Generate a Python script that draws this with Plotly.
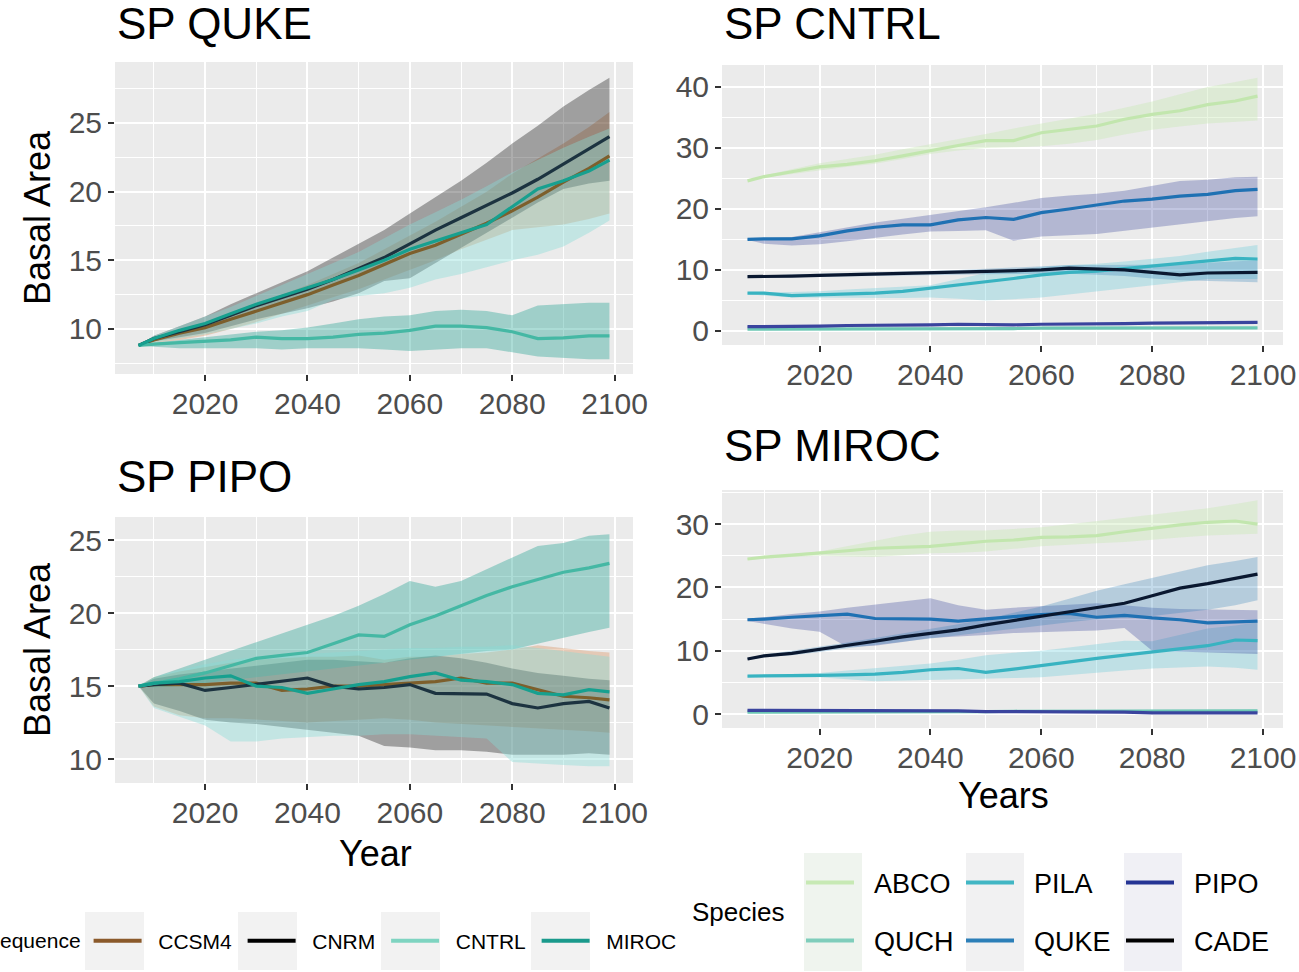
import plotly.graph_objects as go

# ---- data ----
YEARS = [2007, 2010, 2015, 2020, 2025, 2030, 2035, 2040, 2045, 2050,
         2055, 2060, 2065, 2070, 2075, 2080, 2085, 2090, 2095, 2099]

SEQUENCES = ["CCSM4", "CNRM", "CNTRL", "MIROC"]
SPECIES = ["ABCO", "QUCH", "PILA", "QUKE", "PIPO", "CADE"]

# SP QUKE panel
quke_ccsm4 = [8.8, 9.2, 9.7, 10.1, 10.7, 11.3, 11.9, 12.5, 13.2, 13.9, 14.7, 15.5, 16.1, 16.9, 17.7, 18.6, 19.6, 20.7, 21.7, 22.6]
quke_ccsm4_lo = [8.8, 9.0, 9.2, 9.5, 10.0, 10.5, 11.1, 11.7, 12.3, 12.9, 13.6, 14.3, 15.0, 15.8, 16.5, 17.2, 17.4, 17.6, 18.0, 18.4]
quke_ccsm4_hi = [8.8, 9.3, 9.9, 10.4, 11.1, 11.8, 12.5, 13.2, 14.0, 14.8, 15.8, 16.8, 17.8, 18.9, 20.0, 21.3, 22.4, 23.5, 24.7, 25.8]
quke_cnrm = [8.8, 9.3, 9.8, 10.3, 11.0, 11.7, 12.3, 12.9, 13.6, 14.4, 15.2, 16.2, 17.2, 18.1, 19.0, 19.9, 20.9, 22.0, 23.1, 24.0]
quke_cnrm_lo = [8.8, 9.1, 9.4, 9.7, 10.2, 10.7, 11.1, 11.5, 12.0, 12.6, 13.5, 13.7, 14.8, 15.9, 17.0, 18.1, 19.2, 20.2, 20.6, 20.8]
quke_cnrm_hi = [8.8, 9.5, 10.2, 10.9, 11.8, 12.6, 13.4, 14.2, 15.2, 16.2, 17.2, 18.4, 19.6, 20.8, 22.1, 23.5, 24.8, 26.2, 27.4, 28.3]
quke_cntrl = [8.8, 8.9, 9.0, 9.1, 9.2, 9.4, 9.3, 9.3, 9.4, 9.6, 9.7, 9.9, 10.2, 10.2, 10.1, 9.8, 9.3, 9.35, 9.5, 9.5]
quke_cntrl_lo = [8.8, 8.7, 8.6, 8.6, 8.6, 8.6, 8.5, 8.6, 8.6, 8.6, 8.5, 8.4, 8.5, 8.6, 8.6, 8.3, 8.0, 7.9, 7.8, 7.8]
quke_cntrl_hi = [8.8, 9.0, 9.2, 9.4, 9.6, 9.8, 9.9, 10.1, 10.4, 10.7, 10.9, 11.0, 11.3, 11.4, 11.3, 11.0, 11.7, 11.8, 11.9, 11.9]
quke_miroc = [8.8, 9.3, 9.9, 10.4, 11.1, 11.8, 12.4, 13.0, 13.6, 14.3, 15.0, 15.8, 16.4, 17.0, 17.6, 18.9, 20.2, 20.8, 21.5, 22.3]
quke_miroc_lo = [8.8, 9.0, 9.3, 9.6, 10.0, 10.4, 10.9, 11.3, 12.1, 12.4, 12.6, 13.0, 13.6, 14.0, 14.5, 15.0, 15.4, 16.0, 17.0, 17.9]
quke_miroc_hi = [8.8, 9.5, 10.2, 10.9, 11.6, 12.4, 13.2, 14.0, 14.8, 15.6, 16.6, 17.6, 18.5, 19.4, 20.4, 21.4, 22.3, 23.2, 24.0, 24.6]

# SP PIPO panel
pipo_ccsm4 = [15.0, 15.1, 15.1, 15.1, 15.2, 15.2, 14.7, 14.8, 15.0, 15.0, 15.1, 15.2, 15.3, 15.55, 15.2, 15.2, 14.75, 14.3, 14.2, 14.05]
pipo_ccsm4_lo = [15.0, 13.6, 13.0, 12.8, 12.8, 12.7, 12.6, 12.5, 12.6, 12.7, 12.8, 12.7, 12.5, 12.4, 12.3, 12.2, 12.1, 12.0, 11.9, 11.8]
pipo_ccsm4_hi = [15.0, 15.6, 16.0, 16.3, 16.6, 16.8, 16.9, 17.0, 17.0, 17.1, 16.8, 17.0, 17.0, 17.2, 17.3, 17.5, 17.8, 17.6, 17.4, 17.3]
pipo_cnrm = [15.0, 15.1, 15.2, 14.7, 14.9, 15.1, 15.3, 15.55, 15.0, 14.8, 14.9, 15.1, 14.5, 14.45, 14.45, 13.8, 13.5, 13.8, 13.95, 13.5]
pipo_cnrm_lo = [15.0, 13.8, 13.3, 12.7, 12.5, 12.4, 12.2, 12.0, 11.8, 11.6, 10.9, 10.8, 10.6, 10.6, 10.5, 10.3, 10.3, 10.3, 10.4, 10.3]
pipo_cnrm_hi = [15.0, 15.5, 15.8, 16.0, 16.2, 16.4, 16.6, 16.8, 16.8, 16.7, 16.6, 16.9, 17.1, 16.9, 16.6, 16.2, 15.9, 15.7, 15.5, 15.4]
pipo_cntrl = [15.0, 15.2, 15.5, 15.9, 16.4, 16.9, 17.1, 17.3, 17.9, 18.5, 18.4, 19.2, 19.8, 20.5, 21.2, 21.8, 22.3, 22.8, 23.1, 23.4]
pipo_cntrl_lo = [15.0, 14.9, 15.0, 15.2, 15.4, 15.6, 15.8, 16.0, 16.2, 16.4, 16.6, 16.8, 17.0, 17.2, 17.4, 17.5, 17.9, 18.3, 18.7, 19.0]
pipo_cntrl_hi = [15.0, 15.6, 16.2, 16.8, 17.4, 18.0, 18.6, 19.2, 19.8, 20.5, 21.3, 22.2, 21.8, 22.2, 23.0, 23.8, 24.6, 24.8, 25.3, 25.4]
pipo_miroc = [15.0, 15.2, 15.3, 15.55, 15.7, 15.0, 14.9, 14.5, 14.8, 15.1, 15.3, 15.65, 15.9, 15.4, 15.3, 15.1, 14.5, 14.4, 14.75, 14.6]
pipo_miroc_lo = [15.0, 13.5, 12.9, 12.3, 11.2, 11.2, 11.4, 11.5, 11.6, 11.6, 11.7, 11.7, 11.6, 11.5, 11.4, 9.8, 9.7, 9.6, 9.5, 9.5]
pipo_miroc_hi = [15.0, 15.6, 16.1, 16.5, 16.8, 17.0, 17.1, 17.2, 17.3, 17.4, 17.5, 17.6, 17.6, 17.7, 17.7, 17.8, 17.6, 17.4, 17.2, 17.0]

# SP CNTRL panel
cntrl_abco = [24.6, 25.3, 26.1, 26.9, 27.3, 27.9, 28.7, 29.6, 30.4, 31.2, 31.2, 32.5, 33.0, 33.6, 34.7, 35.5, 36.1, 37.1, 37.7, 38.5]
cntrl_abco_lo = [24.6, 25.1, 25.7, 26.3, 26.9, 27.4, 28.2, 29.0, 29.6, 30.0, 30.1, 30.3, 30.7, 31.3, 32.2, 33.0, 33.5, 34.0, 34.3, 34.5]
cntrl_abco_hi = [24.6, 25.5, 26.5, 27.5, 28.2, 28.9, 29.8, 30.6, 31.5, 32.3, 33.2, 34.0, 34.8, 35.6, 36.6, 37.6, 38.8, 40.0, 40.8, 41.5]
cntrl_quch = [0.3, 0.3, 0.3, 0.3, 0.35, 0.35, 0.4, 0.4, 0.4, 0.4, 0.4, 0.45, 0.45, 0.45, 0.5, 0.5, 0.5, 0.5, 0.5, 0.5]
cntrl_quch_lo = [0.2, 0.2, 0.2, 0.2, 0.25, 0.25, 0.3, 0.3, 0.3, 0.3, 0.3, 0.35, 0.35, 0.35, 0.4, 0.4, 0.4, 0.4, 0.4, 0.4]
cntrl_quch_hi = [0.4, 0.4, 0.4, 0.4, 0.45, 0.45, 0.5, 0.5, 0.5, 0.5, 0.5, 0.55, 0.55, 0.55, 0.6, 0.6, 0.6, 0.6, 0.6, 0.6]
cntrl_pila = [6.2, 6.2, 5.8, 5.9, 6.0, 6.2, 6.5, 7.0, 7.5, 8.0, 8.6, 9.2, 9.6, 9.8, 10.2, 10.6, 11.0, 11.4, 11.9, 11.8]
cntrl_pila_lo = [6.0, 5.8, 5.5, 5.4, 5.4, 5.4, 5.4, 5.5, 5.3, 5.0, 5.2, 5.5, 6.0, 6.5, 7.0, 7.5, 8.0, 8.5, 8.5, 8.5]
cntrl_pila_hi = [6.3, 6.4, 6.4, 6.5, 6.8, 7.0, 7.2, 7.5, 8.5, 9.5, 10.0, 10.5, 10.8, 11.0, 11.4, 11.8, 12.3, 13.0, 13.6, 14.1]
cntrl_quke = [15.0, 15.1, 15.1, 15.6, 16.4, 17.0, 17.4, 17.4, 18.2, 18.6, 18.3, 19.4, 20.0, 20.7, 21.3, 21.6, 22.1, 22.4, 23.0, 23.2]
cntrl_quke_lo = [14.9, 14.3, 14.0, 14.2, 14.7, 15.2, 15.8, 16.3, 16.4, 16.5, 14.8, 15.5, 15.7, 15.9, 16.4, 17.0, 17.5, 18.0, 18.5, 18.8]
cntrl_quke_hi = [15.1, 15.2, 15.4, 16.2, 17.0, 17.8, 18.4, 19.0, 19.7, 20.3, 21.0, 21.8, 22.2, 22.5, 23.0, 23.8, 24.6, 24.8, 25.2, 25.3]
cntrl_pipo = [0.7, 0.7, 0.8, 0.8, 0.9, 0.9, 1.0, 1.0, 1.1, 1.0, 1.0, 1.1, 1.1, 1.2, 1.2, 1.3, 1.3, 1.3, 1.3, 1.4]
cntrl_pipo_lo = [0.6, 0.6, 0.7, 0.7, 0.8, 0.8, 0.9, 0.9, 1.0, 0.9, 0.9, 1.0, 1.0, 1.1, 1.1, 1.2, 1.2, 1.2, 1.2, 1.3]
cntrl_pipo_hi = [0.8, 0.8, 0.9, 0.9, 1.0, 1.0, 1.1, 1.1, 1.2, 1.1, 1.1, 1.2, 1.2, 1.3, 1.3, 1.4, 1.4, 1.4, 1.4, 1.5]
cntrl_cade = [8.9, 8.9, 9.0, 9.1, 9.2, 9.3, 9.4, 9.5, 9.6, 9.8, 9.9, 10.0, 10.3, 10.1, 10.0, 9.6, 9.2, 9.5, 9.6, 9.6]
cntrl_cade_lo = [8.8, 8.8, 8.8, 8.9, 9.0, 9.0, 9.1, 9.2, 9.2, 9.3, 9.4, 9.4, 9.4, 9.2, 9.0, 8.6, 8.3, 8.2, 8.1, 8.0]
cntrl_cade_hi = [9.0, 9.1, 9.3, 9.4, 9.5, 9.6, 9.7, 9.8, 10.0, 10.2, 10.4, 10.6, 10.8, 10.8, 10.8, 10.8, 10.9, 11.2, 11.4, 11.6]

# SP MIROC panel
miroc_abco = [24.5, 24.8, 25.1, 25.4, 25.8, 26.2, 26.4, 26.5, 26.9, 27.3, 27.5, 27.9, 28.0, 28.2, 28.8, 29.4, 29.9, 30.3, 30.5, 30.0]
miroc_abco_lo = [24.4, 24.6, 24.8, 25.0, 24.9, 24.8, 25.1, 25.4, 25.5, 25.7, 26.1, 26.5, 26.8, 27.0, 27.2, 27.5, 27.9, 28.2, 28.4, 28.5]
miroc_abco_hi = [24.6, 24.9, 25.3, 25.7, 26.5, 27.3, 28.2, 28.8, 29.0, 29.0, 29.2, 29.5, 30.0, 30.5, 31.0, 31.5, 32.0, 32.5, 33.2, 33.8]
miroc_quch = [0.3, 0.3, 0.3, 0.3, 0.35, 0.35, 0.4, 0.4, 0.4, 0.4, 0.45, 0.45, 0.45, 0.5, 0.5, 0.5, 0.5, 0.5, 0.5, 0.5]
miroc_quch_lo = [0.2, 0.2, 0.2, 0.2, 0.25, 0.25, 0.3, 0.3, 0.3, 0.3, 0.35, 0.35, 0.35, 0.4, 0.4, 0.4, 0.4, 0.4, 0.4, 0.4]
miroc_quch_hi = [0.4, 0.4, 0.4, 0.4, 0.45, 0.45, 0.5, 0.5, 0.5, 0.5, 0.55, 0.55, 0.55, 0.6, 0.6, 0.6, 0.6, 0.6, 0.6, 0.6]
miroc_pila = [6.0, 6.0, 6.1, 6.1, 6.2, 6.3, 6.6, 7.0, 7.2, 6.6, 7.1, 7.7, 8.3, 8.8, 9.3, 9.8, 10.2, 10.8, 11.7, 11.6]
miroc_pila_lo = [5.9, 5.8, 5.8, 5.8, 5.5, 5.2, 5.3, 5.5, 5.6, 5.6, 5.7, 5.8, 6.1, 6.5, 6.9, 7.2, 7.4, 7.5, 7.3, 7.0]
miroc_pila_hi = [6.1, 6.2, 6.3, 6.5, 6.9, 7.3, 7.7, 8.0, 8.6, 9.3, 9.7, 10.0, 10.5, 11.0, 11.6, 11.5, 12.5, 13.5, 14.0, 14.5]
miroc_quke = [14.9, 15.0, 15.3, 15.6, 15.8, 15.1, 15.0, 15.0, 14.7, 15.1, 15.4, 15.7, 15.9, 15.3, 15.6, 15.2, 14.9, 14.4, 14.6, 14.7]
miroc_quke_lo = [14.7, 14.3, 13.5, 13.0, 10.6, 10.8, 11.4, 12.0, 12.3, 12.5, 12.8, 13.0, 13.1, 13.2, 13.6, 10.0, 9.8, 9.7, 9.6, 9.5]
miroc_quke_hi = [15.1, 15.3, 15.8, 16.2, 16.8, 17.3, 17.8, 18.3, 17.2, 16.5, 16.8, 17.0, 17.3, 17.5, 17.2, 16.8, 16.6, 16.5, 16.4, 16.4]
miroc_pipo = [0.6, 0.6, 0.6, 0.6, 0.6, 0.6, 0.6, 0.5, 0.5, 0.4, 0.4, 0.3, 0.3, 0.3, 0.3, 0.2, 0.2, 0.2, 0.2, 0.2]
miroc_pipo_lo = [0.5, 0.5, 0.5, 0.5, 0.5, 0.5, 0.5, 0.4, 0.4, 0.3, 0.3, 0.2, 0.2, 0.2, 0.2, 0.1, 0.1, 0.1, 0.1, 0.1]
miroc_pipo_hi = [0.7, 0.7, 0.7, 0.7, 0.7, 0.7, 0.7, 0.6, 0.6, 0.5, 0.5, 0.4, 0.4, 0.4, 0.4, 0.3, 0.3, 0.3, 0.3, 0.3]
miroc_cade = [8.7, 9.2, 9.6, 10.2, 10.9, 11.5, 12.2, 12.7, 13.3, 14.1, 14.8, 15.5, 16.2, 16.9, 17.5, 18.7, 19.9, 20.6, 21.4, 22.1]
miroc_cade_lo = [8.6, 9.0, 9.3, 9.8, 10.4, 11.0, 11.5, 12.0, 12.5, 13.0, 13.5, 14.0, 14.5, 15.0, 15.2, 15.5, 16.0, 16.5, 17.2, 18.0]
miroc_cade_hi = [8.8, 9.4, 10.0, 10.6, 11.3, 12.0, 12.7, 13.4, 14.2, 15.0, 16.0, 17.0, 18.2, 19.5, 20.5, 21.5, 22.5, 23.5, 24.2, 24.8]

# ---- styling ----
FONT = "Liberation Sans, Arial, sans-serif"
BG = "#EBEBEB"
TICK_TEXT = "#4D4D4D"

# colour of the key in the legends
SEQ_KEY = {"CCSM4": "#8B5A2B", "CNRM": "#000000", "CNTRL": "#7FD4C1", "MIROC": "#1A9A8C"}
SP_KEY = {"ABCO": "#C7E9B4", "QUCH": "#7FCDBB", "PILA": "#41B6C4",
          "QUKE": "#2C7FB8", "PIPO": "#253494", "CADE": "#000000"}
# colour the lines show inside the panels (seen through the ribbons)
SEQ_LINE = {"CCSM4": "#7D5F2C", "CNRM": "#1C3340", "CNTRL": "#45B8A4", "MIROC": "#17A08F"}
SP_LINE = {"ABCO": "#C2E6AE", "QUCH": "#6CC7B4", "PILA": "#38B3C1",
           "QUKE": "#1F71B3", "PIPO": "#3A449E", "CADE": "#0A1830"}
SEQ_FILL = {"CCSM4": "rgba(215,140,90,0.36)", "CNRM": "rgba(0,0,0,0.32)",
            "CNTRL": "rgba(26,158,140,0.36)", "MIROC": "rgba(135,220,215,0.40)"}
SP_FILL = {"ABCO": "rgba(199,233,180,0.40)", "QUCH": "rgba(127,205,187,0.40)",
           "PILA": "rgba(90,200,215,0.30)", "QUKE": "rgba(37,52,148,0.28)",
           "PIPO": "rgba(37,52,148,0.28)", "CADE": "rgba(44,127,184,0.28)"}

panels = [
    # (axis suffix, {name: (mean, lo, hi)}, kind)
    ("", {"CCSM4": (quke_ccsm4, quke_ccsm4_lo, quke_ccsm4_hi),
          "CNRM": (quke_cnrm, quke_cnrm_lo, quke_cnrm_hi),
          "CNTRL": (quke_cntrl, quke_cntrl_lo, quke_cntrl_hi),
          "MIROC": (quke_miroc, quke_miroc_lo, quke_miroc_hi)}, "seq"),
    ("2", {"ABCO": (cntrl_abco, cntrl_abco_lo, cntrl_abco_hi),
           "QUCH": (cntrl_quch, cntrl_quch_lo, cntrl_quch_hi),
           "PILA": (cntrl_pila, cntrl_pila_lo, cntrl_pila_hi),
           "QUKE": (cntrl_quke, cntrl_quke_lo, cntrl_quke_hi),
           "PIPO": (cntrl_pipo, cntrl_pipo_lo, cntrl_pipo_hi),
           "CADE": (cntrl_cade, cntrl_cade_lo, cntrl_cade_hi)}, "sp"),
    ("3", {"CCSM4": (pipo_ccsm4, pipo_ccsm4_lo, pipo_ccsm4_hi),
           "CNRM": (pipo_cnrm, pipo_cnrm_lo, pipo_cnrm_hi),
           "CNTRL": (pipo_cntrl, pipo_cntrl_lo, pipo_cntrl_hi),
           "MIROC": (pipo_miroc, pipo_miroc_lo, pipo_miroc_hi)}, "seq"),
    ("4", {"ABCO": (miroc_abco, miroc_abco_lo, miroc_abco_hi),
           "QUCH": (miroc_quch, miroc_quch_lo, miroc_quch_hi),
           "PILA": (miroc_pila, miroc_pila_lo, miroc_pila_hi),
           "QUKE": (miroc_quke, miroc_quke_lo, miroc_quke_hi),
           "PIPO": (miroc_pipo, miroc_pipo_lo, miroc_pipo_hi),
           "CADE": (miroc_cade, miroc_cade_lo, miroc_cade_hi)}, "sp"),
]

fig = go.Figure()

for suffix, series, kind in panels:
    xa, ya = "x" + suffix, "y" + suffix
    for name, (mean, lo, hi) in series.items():
        fill = SEQ_FILL[name] if kind == "seq" else SP_FILL[name]
        fig.add_trace(go.Scatter(
            x=YEARS + YEARS[::-1], y=hi + lo[::-1],
            mode="lines", fill="toself", fillcolor=fill,
            line=dict(width=0), hoverinfo="skip",
            xaxis=xa, yaxis=ya, showlegend=False,
        ))
    for name, (mean, lo, hi) in series.items():
        color = SEQ_LINE[name] if kind == "seq" else SP_LINE[name]
        fig.add_trace(go.Scatter(
            x=YEARS, y=mean, mode="lines", name=name,
            line=dict(color=color, width=3.2),
            xaxis=xa, yaxis=ya, showlegend=False,
            hovertemplate=name + " %{x}: %{y:.1f}<extra></extra>",
        ))

# legend-only entries carrying the key colours
NB = "\u00a0"
for name in SEQUENCES:
    fig.add_trace(go.Scatter(x=[None], y=[None], mode="lines", name=NB * 2 + name + NB,
                             line=dict(color=SEQ_KEY[name], width=4), legend="legend"))
for i, name in enumerate(SPECIES):
    fig.add_trace(go.Scatter(x=[None], y=[None], mode="lines", name=NB * 2 + name,
                             line=dict(color=SP_KEY[name], width=4),
                             legend="legend2" if i % 2 == 0 else "legend3"))

W, H = 1299, 972


def px_x(v):
    return v / W


def px_y(v):
    return 1 - v / H


def xaxis(left, right, anchor):
    return dict(
        domain=[px_x(left), px_x(right)], anchor=anchor,
        range=[2002.4, 2103.6], tick0=2000, dtick=20,
        showgrid=True, gridcolor="white", gridwidth=2,
        minor=dict(tick0=2000, dtick=10, showgrid=True, gridcolor="white", gridwidth=1),
        ticks="outside", ticklen=6, tickwidth=2, tickcolor="#333333",
        ticklabelstandoff=-3,
        tickfont=dict(size=30, color=TICK_TEXT, family=FONT),
        zeroline=False, showline=False,
    )


def yaxis(top, bottom, rng, step, anchor):
    return dict(
        domain=[px_y(bottom), px_y(top)], anchor=anchor,
        range=rng, tick0=0, dtick=step,
        showgrid=True, gridcolor="white", gridwidth=2,
        minor=dict(tick0=0, dtick=step / 2, showgrid=True, gridcolor="white", gridwidth=1),
        ticks="outside", ticklen=6, tickwidth=2, tickcolor="#333333",
        tickfont=dict(size=30, color=TICK_TEXT, family=FONT),
        zeroline=False, showline=False,
    )


LEFT = (115, 633)
RIGHT = (722, 1283)

annotations = []
for text, x, y in [("SP QUKE", 115, 23), ("SP CNTRL", 722, 23),
                   ("SP PIPO", 115, 476), ("SP MIROC", 722, 446)]:
    annotations.append(dict(text=text, x=px_x(x), y=px_y(y), xref="paper", yref="paper",
                            xanchor="left", yanchor="middle", showarrow=False,
                            font=dict(size=44, color="black", family=FONT)))
for y in (218, 650):
    annotations.append(dict(text="Basal Area", x=px_x(37), y=px_y(y), xref="paper", yref="paper",
                            textangle=-90, xanchor="center", yanchor="middle", showarrow=False,
                            font=dict(size=36, color="black", family=FONT)))
annotations.append(dict(text="Year", x=px_x(375), y=px_y(853), xref="paper", yref="paper",
                        xanchor="center", yanchor="middle", showarrow=False,
                        font=dict(size=36, color="black", family=FONT)))
annotations.append(dict(text="Years", x=px_x(1003), y=px_y(795), xref="paper", yref="paper",
                        xanchor="center", yanchor="middle", showarrow=False,
                        font=dict(size=36, color="black", family=FONT)))
annotations.append(dict(text="Species", x=px_x(690), y=px_y(912), xref="paper", yref="paper",
                        xanchor="left", yanchor="middle", showarrow=False,
                        font=dict(size=26, color="black", family=FONT)))

# light grey legend key boxes (ggplot style)
shapes = []
for x0 in (85, 238, 381, 531):
    shapes.append(dict(type="rect", xref="paper", yref="paper", layer="below",
                       x0=px_x(x0), x1=px_x(x0 + 59), y0=px_y(970), y1=px_y(912),
                       fillcolor="#F2F2F2", line=dict(width=0)))
for x0, tint in ((804, "#EFF4EE"), (966, "#F1F1F2"), (1124, "#F0F0F5")):
    shapes.append(dict(type="rect", xref="paper", yref="paper", layer="below",
                       x0=px_x(x0), x1=px_x(x0 + 58), y0=px_y(971), y1=px_y(853),
                       fillcolor=tint, line=dict(width=0)))

legend_common = dict(orientation="h", xanchor="left", yanchor="middle",
                     bgcolor="rgba(0,0,0,0)", itemwidth=48, itemclick=False,
                     itemdoubleclick=False, traceorder="normal")

fig.update_layout(
    width=W, height=H,
    margin=dict(l=0, r=0, t=0, b=0, autoexpand=False),
    paper_bgcolor="white", plot_bgcolor=BG,
    font=dict(family=FONT, color="black"),
    xaxis=xaxis(*LEFT, "y"), yaxis=yaxis(62, 374, [6.72, 29.44], 5, "x"),
    xaxis2=xaxis(*RIGHT, "y2"), yaxis2=yaxis(65, 345, [-2.3, 43.6], 10, "x2"),
    xaxis3=xaxis(*LEFT, "y3"), yaxis3=yaxis(517, 783, [8.36, 26.58], 5, "x3"),
    xaxis4=xaxis(*RIGHT, "y4"), yaxis4=yaxis(490, 728, [-2.2, 35.4], 10, "x4"),
    legend=dict(**legend_common, x=px_x(-16), y=px_y(941),
                title=dict(text="Sequence", side="left", font=dict(size=21, family=FONT)),
                font=dict(size=21, color="black", family=FONT)),
    legend2=dict(**legend_common, x=px_x(801), y=px_y(883), entrywidth=97,
                 font=dict(size=27, color="black", family=FONT)),
    legend3=dict(**legend_common, x=px_x(801), y=px_y(941), entrywidth=97,
                 font=dict(size=27, color="black", family=FONT)),
    annotations=annotations,
    shapes=shapes,
)

# page has a default 8px body margin; drop it so the figure fills the window
fig.write_html("out.html", config={"displayModeBar": False},
               post_script="document.body.style.margin='0px';")
